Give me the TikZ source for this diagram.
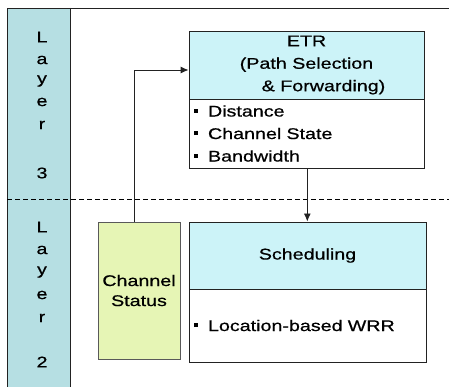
\documentclass[tikz,border=0pt]{standalone}
\usepackage{fontspec}
\setmainfont{Liberation Sans}[FakeStretch=1.27,FakeBold=0.6]
\usetikzlibrary{arrows.meta}
\definecolor{layerfill}{HTML}{B6DFE3}
\definecolor{headfill}{HTML}{CCF3F8}
\definecolor{statfill}{HTML}{E6F5B5}
\definecolor{edge}{HTML}{222222}
\begin{document}
\begin{tikzpicture}[x=1pt,y=-1pt,
  txt/.style={font=\fontsize{15.5}{22.5}\selectfont, inner sep=0pt},
  box/.style={draw=edge, line width=0.9pt, rectangle, inner sep=0pt, txt},
  headbox/.style={box, fill=headfill, align=center},
  bodybox/.style={box, fill=white, align=left},
  statbox/.style={box, draw=black!65, fill=statfill, align=center, font=\fontsize{15.5}{20}\selectfont},
  layertxt/.style={txt, anchor=center},
  conn/.style={draw=edge, line width=0.9pt},
  arr/.style={conn, -{Latex[length=8pt,width=7pt]}},
  sep/.style={draw=black, line width=0.9pt, dash pattern=on 5pt off 3pt}
]
\useasboundingbox (0,0) rectangle (449,387);
% layer column
\fill[layerfill] (7,8) rectangle (70,387);
\draw[conn] (7,387) -- (7,8) -- (449,8);
\draw[conn] (70,8) -- (70,387);
\draw[sep] (7,199) -- (449,199);
% layer labels
\foreach \ch/\yy [count=\i] in {L/37,a/60,y/81,e/102,r/125,3/173}
  \node[layertxt] (lt\i) at (42,\yy) {\ch};
\foreach \ch/\yy [count=\i] in {L/227,a/250,y/272,e/295,r/318,2/362}
  \node[layertxt] (lb\i) at (42,\yy) {\ch};
% bullet
\newcommand{\bul}{\rule[4pt]{4pt}{4pt}\hspace{10pt}}
% ETR
\node[headbox, minimum width=235pt, minimum height=68pt] (etrh) at (306.5,65)
  {ETR\\(Path Selection\\\hspace*{34pt}\& Forwarding)};
\node[bodybox, minimum width=235pt, minimum height=69pt, text width=225pt] (etrb) at (306.5,133.5)
  {\bul Distance\\\bul Channel State\\\bul Bandwidth};
% Scheduling
\node[headbox, minimum width=237pt, minimum height=67pt] (schh) at (307.5,255.5) {Scheduling};
\node[bodybox, minimum width=237pt, minimum height=73pt, text width=227pt] (schb) at (307.5,325.5)
  {\bul Location-based WRR};
% Channel status
\node[statbox, minimum width=82pt, minimum height=137pt] (cs) at (139,290.5) {Channel\\Status};
% connectors
\coordinate (turn) at (134,70);
\draw[arr] (cs.north -| turn) -- (turn) -- (turn -| etrh.west);
\draw[arr] (etrb.south -| 307.3,0) -- (schh.north -| 307.3,0);
\end{tikzpicture}
\end{document}
